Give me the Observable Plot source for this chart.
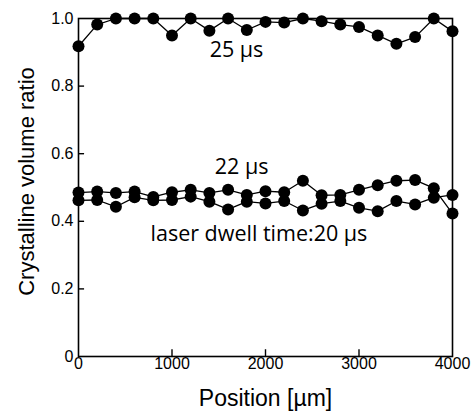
<!DOCTYPE html>
<html>
<head>
<meta charset="utf-8">
<script src="https://cdn.jsdelivr.net/npm/d3@7"></script>
<script src="https://cdn.jsdelivr.net/npm/@observablehq/plot@0.6"></script>
<style>
  html, body { margin: 0; padding: 0; background: #fff; }
  #chart svg { display: block; }
</style>
</head>
<body>
<div id="chart"></div>
<script>
// Positions along the sample (µm)
const positions = [0, 200, 400, 600, 800, 1000, 1200, 1400, 1600, 1800, 2000,
                   2200, 2400, 2600, 2800, 3000, 3200, 3400, 3600, 3800, 4000];
// Crystalline volume ratio per laser dwell time
const ratio25 = [0.918, 0.982, 1.0, 1.0, 1.0, 0.95, 1.0, 0.964, 1.0, 0.966, 0.99,
                 0.988, 1.0, 0.992, 0.982, 0.975, 0.95, 0.925, 0.945, 1.0, 0.962];
const ratio22 = [0.485, 0.488, 0.484, 0.488, 0.472, 0.486, 0.493, 0.484, 0.493, 0.478, 0.489,
                 0.486, 0.52, 0.477, 0.478, 0.493, 0.507, 0.52, 0.522, 0.498, 0.423];
const ratio20 = [0.462, 0.463, 0.443, 0.471, 0.462, 0.463, 0.473, 0.458, 0.435, 0.458, 0.453,
                 0.46, 0.432, 0.452, 0.46, 0.44, 0.43, 0.46, 0.45, 0.47, 0.478];
const seriesNames = ["25 µs", "22 µs", "20 µs"];
// Tick values
const xTicks = [0, 1000, 2000, 3000, 4000];
const yTicks = [0, 0.2, 0.4, 0.6, 0.8, 1.0];
// Annotation texts with anchor positions in data units
const labelTexts = ["25 µs", "22 µs", "laser dwell time:20 µs"];
const labelX = [1690, 1745, 1930];
const labelY = [0.885, 0.54, 0.343];

const data = [];
[ratio25, ratio22, ratio20].forEach((arr, k) => {
  arr.forEach((v, i) => data.push({series: seriesNames[k], x: positions[i], y: v}));
});
const labels = labelTexts.map((t, i) => ({text: t, x: labelX[i], y: labelY[i]}));

const chart = Plot.plot({
  width: 475,
  height: 414,
  marginLeft: 78,
  marginRight: 23,
  marginTop: 18,
  marginBottom: 58,
  style: {fontFamily: "'Liberation Sans', Arial, sans-serif", background: "#fff", color: "#000"},
  x: {domain: [0, 4000]},
  y: {domain: [0, 1]},
  marks: [
    Plot.frame({stroke: "#000", strokeWidth: 1.6}),
    // inward ticks
    Plot.ruleX(xTicks.slice(1, -1), {y1: 0, y2: 0.02, stroke: "#000", strokeWidth: 1.4}),
    Plot.ruleY(yTicks.slice(1, -1), {x1: 0, x2: 65, stroke: "#000", strokeWidth: 1.4}),
    Plot.axisX(xTicks, {tickSize: 0, tickPadding: 1, fontSize: 16, label: null,
      tickFormat: d => String(d)}),
    Plot.axisY(yTicks, {tickSize: 0, tickPadding: 5, fontSize: 16, label: null,
      tickFormat: d => d === 0 ? "0" : d.toFixed(1)}),
    Plot.line(data, {x: "x", y: "y", z: "series", stroke: "#000", strokeWidth: 1.3}),
    Plot.dot(data, {x: "x", y: "y", r: 6, fill: "#000", stroke: null}),
    Plot.text(labels, {x: "x", y: "y", text: "text", fontSize: 21.5, fontWeight: 500, lineAnchor: "bottom",
      textAnchor: "middle", fontFamily: "'Open Sans', 'DejaVu Sans', sans-serif", fill: "#000"}),
    Plot.text(["Position [µm]"], {frameAnchor: "bottom", dy: 49, lineAnchor: "bottom",
      textAnchor: "middle", fontSize: 23, fill: "#000"}),
    Plot.text(["Crystalline volume ratio"], {frameAnchor: "left", dx: -52, dy: -6, rotate: -90,
      textAnchor: "middle", fontSize: 22, fill: "#000"})
  ]
});
document.getElementById("chart").appendChild(chart);
</script>
</body>
</html>
